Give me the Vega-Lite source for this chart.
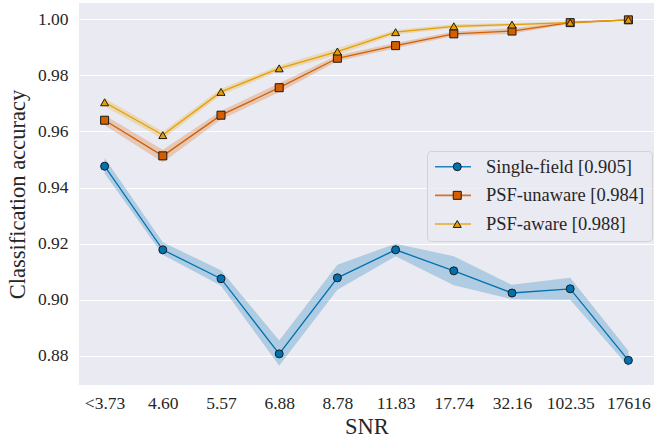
{
  "$schema": "https://vega.github.io/schema/vega-lite/v6.json",
  "width": 575,
  "height": 382,
  "autosize": {"type": "none"},
  "padding": {"left": 79, "top": 3, "right": 10, "bottom": 54},
  "background": "white",
  "config": {
    "view": {"fill": "#eaeaf2", "stroke": null},
    "font": "Liberation Serif",
    "axis": {
      "domain": false,
      "ticks": false,
      "gridColor": "white",
      "gridWidth": 1.2,
      "labelFont": "Liberation Serif",
      "labelFontSize": 17.5,
      "labelColor": "#262626",
      "titleFont": "Liberation Serif",
      "titleFontSize": 22.5,
      "titleFontWeight": "normal",
      "titleColor": "#262626"
    },
    "legend": {
      "labelFont": "Liberation Serif",
      "labelFontSize": 18.5,
      "labelColor": "#262626"
    }
  },
  "data": {
    "values": [
      {"snr": "<3.73", "series": "Single-field [0.905]", "acc": 0.9476, "lo": 0.9450, "hi": 0.9505},
      {"snr": "4.60", "series": "Single-field [0.905]", "acc": 0.9178, "lo": 0.9160, "hi": 0.9205},
      {"snr": "5.57", "series": "Single-field [0.905]", "acc": 0.9075, "lo": 0.9050, "hi": 0.9105},
      {"snr": "6.88", "series": "Single-field [0.905]", "acc": 0.8807, "lo": 0.8765, "hi": 0.8855},
      {"snr": "8.78", "series": "Single-field [0.905]", "acc": 0.9078, "lo": 0.9036, "hi": 0.9125},
      {"snr": "11.83", "series": "Single-field [0.905]", "acc": 0.9178, "lo": 0.9155, "hi": 0.9200},
      {"snr": "17.74", "series": "Single-field [0.905]", "acc": 0.9103, "lo": 0.9052, "hi": 0.9155},
      {"snr": "32.16", "series": "Single-field [0.905]", "acc": 0.9024, "lo": 0.9002, "hi": 0.9053},
      {"snr": "102.35", "series": "Single-field [0.905]", "acc": 0.9039, "lo": 0.9000, "hi": 0.9078},
      {"snr": "17616", "series": "Single-field [0.905]", "acc": 0.8784, "lo": 0.8762, "hi": 0.8818},
      {"snr": "<3.73", "series": "PSF-unaware [0.984]", "acc": 0.9640, "lo": 0.9622, "hi": 0.9658},
      {"snr": "4.60", "series": "PSF-unaware [0.984]", "acc": 0.9513, "lo": 0.9490, "hi": 0.9535},
      {"snr": "5.57", "series": "PSF-unaware [0.984]", "acc": 0.9658, "lo": 0.9643, "hi": 0.9673},
      {"snr": "6.88", "series": "PSF-unaware [0.984]", "acc": 0.9756, "lo": 0.9740, "hi": 0.9772},
      {"snr": "8.78", "series": "PSF-unaware [0.984]", "acc": 0.9861, "lo": 0.9850, "hi": 0.9872},
      {"snr": "11.83", "series": "PSF-unaware [0.984]", "acc": 0.9906, "lo": 0.9897, "hi": 0.9915},
      {"snr": "17.74", "series": "PSF-unaware [0.984]", "acc": 0.9948, "lo": 0.9940, "hi": 0.9956},
      {"snr": "32.16", "series": "PSF-unaware [0.984]", "acc": 0.9958, "lo": 0.9948, "hi": 0.9968},
      {"snr": "102.35", "series": "PSF-unaware [0.984]", "acc": 0.9988, "lo": 0.9984, "hi": 0.9992},
      {"snr": "17616", "series": "PSF-unaware [0.984]", "acc": 0.9998, "lo": 0.9996, "hi": 1.0000},
      {"snr": "<3.73", "series": "PSF-aware [0.988]", "acc": 0.9704, "lo": 0.9690, "hi": 0.9718},
      {"snr": "4.60", "series": "PSF-aware [0.988]", "acc": 0.9587, "lo": 0.9573, "hi": 0.9600},
      {"snr": "5.57", "series": "PSF-aware [0.988]", "acc": 0.9741, "lo": 0.9730, "hi": 0.9752},
      {"snr": "6.88", "series": "PSF-aware [0.988]", "acc": 0.9825, "lo": 0.9815, "hi": 0.9835},
      {"snr": "8.78", "series": "PSF-aware [0.988]", "acc": 0.9885, "lo": 0.9873, "hi": 0.9897},
      {"snr": "11.83", "series": "PSF-aware [0.988]", "acc": 0.9954, "lo": 0.9946, "hi": 0.9962},
      {"snr": "17.74", "series": "PSF-aware [0.988]", "acc": 0.9975, "lo": 0.9968, "hi": 0.9982},
      {"snr": "32.16", "series": "PSF-aware [0.988]", "acc": 0.9981, "lo": 0.9976, "hi": 0.9986},
      {"snr": "102.35", "series": "PSF-aware [0.988]", "acc": 0.9988, "lo": 0.9984, "hi": 0.9992},
      {"snr": "17616", "series": "PSF-aware [0.988]", "acc": 0.9998, "lo": 0.9996, "hi": 1.0000}
    ]
  },
  "encoding": {
    "x": {
      "field": "snr",
      "type": "ordinal",
      "sort": ["<3.73", "4.60", "5.57", "6.88", "8.78", "11.83", "17.74", "32.16", "102.35", "17616"],
      "scale": {"type": "point", "padding": 0.44},
      "axis": {"title": "SNR", "labelAngle": 0, "labelPadding": 9, "titlePadding": 4}
    }
  },
  "layer": [
    {
      "mark": {"type": "area", "opacity": 0.25},
      "encoding": {
        "y": {
          "field": "lo",
          "type": "quantitative",
          "scale": {"domain": [0.8696, 1.0058], "nice": false, "zero": false},
          "axis": {
            "title": "Classification accuracy",
            "values": [0.88, 0.90, 0.92, 0.94, 0.96, 0.98, 1.00],
            "format": ".2f",
            "labelPadding": 11,
            "titlePadding": 8
          }
        },
        "y2": {"field": "hi"},
        "color": {
          "field": "series",
          "type": "nominal",
          "scale": {
            "domain": ["Single-field [0.905]", "PSF-unaware [0.984]", "PSF-aware [0.988]"],
            "range": ["#0072b2", "#d55e00", "#e69f00"]
          }
        }
      }
    },
    {
      "mark": {"type": "line", "strokeWidth": 1.3},
      "encoding": {
        "y": {"field": "acc", "type": "quantitative"},
        "color": {
          "field": "series",
          "type": "nominal",
          "legend": {
            "title": null,
            "orient": "none",
            "legendX": 348,
            "legendY": 148,
            "symbolType": "stroke",
            "symbolSize": 1296,
            "symbolStrokeWidth": 1.6,
            "symbolOpacity": 0.85,
            "labelFont": "Liberation Serif",
            "labelFontSize": 18.5,
            "labelColor": "#262626",
            "labelOffset": 14,
            "padding": 7,
            "clipHeight": 17.5,
            "rowPadding": 8.6,
            "fillColor": "rgba(234,234,242,0.8)",
            "strokeColor": "rgba(204,204,204,0.8)",
            "cornerRadius": 4,
            "encode": {
              "symbols": {"update": {"opacity": {"value": 0.85}, "strokeWidth": {"value": 1.6}}}
            }
          }
        }
      }
    },
    {
      "mark": {"type": "point", "filled": true, "size": 64, "stroke": "#1a1a1a", "strokeWidth": 1, "opacity": 1},
      "encoding": {
        "y": {"field": "acc", "type": "quantitative"},
        "fill": {
          "field": "series",
          "type": "nominal",
          "scale": {
            "domain": ["Single-field [0.905]", "PSF-unaware [0.984]", "PSF-aware [0.988]", "other"],
            "range": ["#0072b2", "#d55e00", "#e69f00", "#999999"]
          },
          "legend": {
            "title": null,
            "orient": "none",
            "legendX": 362,
            "legendY": 148,
            "values": ["Single-field [0.905]", "PSF-unaware [0.984]", "PSF-aware [0.988]"],
            "symbolSize": 64,
            "symbolOpacity": 1,
            "symbolStrokeWidth": 1,
            "labelExpr": "''",
            "labelFontSize": 18.5,
            "padding": 7,
            "clipHeight": 17.5,
            "rowPadding": 8.6
          }
        },
        "shape": {
          "field": "series",
          "type": "nominal",
          "scale": {
            "domain": ["Single-field [0.905]", "PSF-unaware [0.984]", "PSF-aware [0.988]", "other"],
            "range": ["circle", "square", "triangle-up", "diamond"]
          },
          "legend": {
            "title": null,
            "orient": "none",
            "legendX": 362,
            "legendY": 148,
            "values": ["Single-field [0.905]", "PSF-unaware [0.984]", "PSF-aware [0.988]"],
            "symbolSize": 64,
            "symbolOpacity": 1,
            "symbolStrokeWidth": 1,
            "labelExpr": "''",
            "labelFontSize": 18.5,
            "padding": 7,
            "clipHeight": 17.5,
            "rowPadding": 8.6
          }
        }
      }
    }
  ]
}
